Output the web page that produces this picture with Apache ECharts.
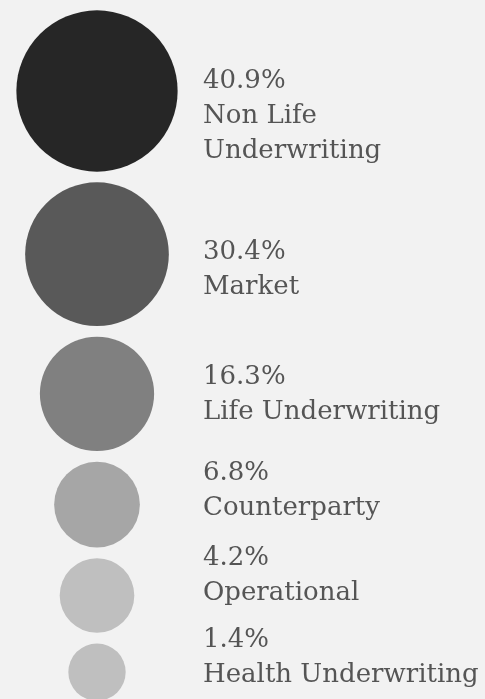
<!DOCTYPE html>
<html><head><meta charset="utf-8">
<style>html,body{margin:0;padding:0;background:#f2f2f2;}#c{width:485px;height:699px;}</style>
<script src="https://cdn.jsdelivr.net/npm/echarts@6/dist/echarts.min.js"></script>
</head><body><div id="c"></div>
<script>
// Data
const categories = ['Non Life Underwriting', 'Market', 'Life Underwriting', 'Counterparty', 'Operational', 'Health Underwriting'];
const shares = [40.9, 30.4, 16.3, 6.8, 4.2, 1.4];
const colors = ['#262626', '#595959', '#808080', '#a6a6a6', '#bfbfbf', '#bfbfbf'];

// Layout helpers (size scale & vertical stacking derived from values)
const sizeOf = v => 33.75 + 19.94 * Math.sqrt(v);
const GAP = 10.7, TOP = 91, COLX = 97;
const ys = [];
shares.forEach((v, i) => {
  if (i === 0) ys.push(TOP);
  else ys.push(ys[i - 1] + sizeOf(shares[i - 1]) / 2 + sizeOf(v) / 2 + GAP);
});

const data = shares.map((v, i) => ({
  name: categories[i],
  value: [COLX, ys[i], v],
  symbolSize: sizeOf(v),
  itemStyle: { color: colors[i], opacity: 1 }
}));

const chart = echarts.init(document.getElementById('c'), null, { renderer: 'canvas' });
chart.setOption({
  backgroundColor: '#f2f2f2',
  animation: false,
  grid: { left: 0, right: 0, top: 0, bottom: 0 },
  xAxis: { type: 'value', min: 0, max: 485, show: false },
  yAxis: { type: 'value', min: 0, max: 699, inverse: true, show: false },
  series: [{
    type: 'scatter',
    symbol: 'circle',
    data: data,
    silent: true,
    emphasis: { disabled: true },
    itemStyle: { opacity: 1 },
    label: {
      show: true,
      position: 'right',
      color: '#555555',
      fontFamily: 'DejaVu Serif',
      fontSize: 26,
      lineHeight: 35,
      width: 282,
      padding: [6, 0, 6, 0],
      overflow: 'break',
      formatter: p => p.value[2].toFixed(1) + '%\n' + p.name
    },
    labelLayout: p => {
      const r = p.rect.height / 2;
      return {
        x: 203,
        y: p.rect.y + r + (r - 55),
        align: 'left',
        verticalAlign: 'middle',
        moveOverlap: 'shiftY'
      };
    }
  }]
});
</script></body></html>
